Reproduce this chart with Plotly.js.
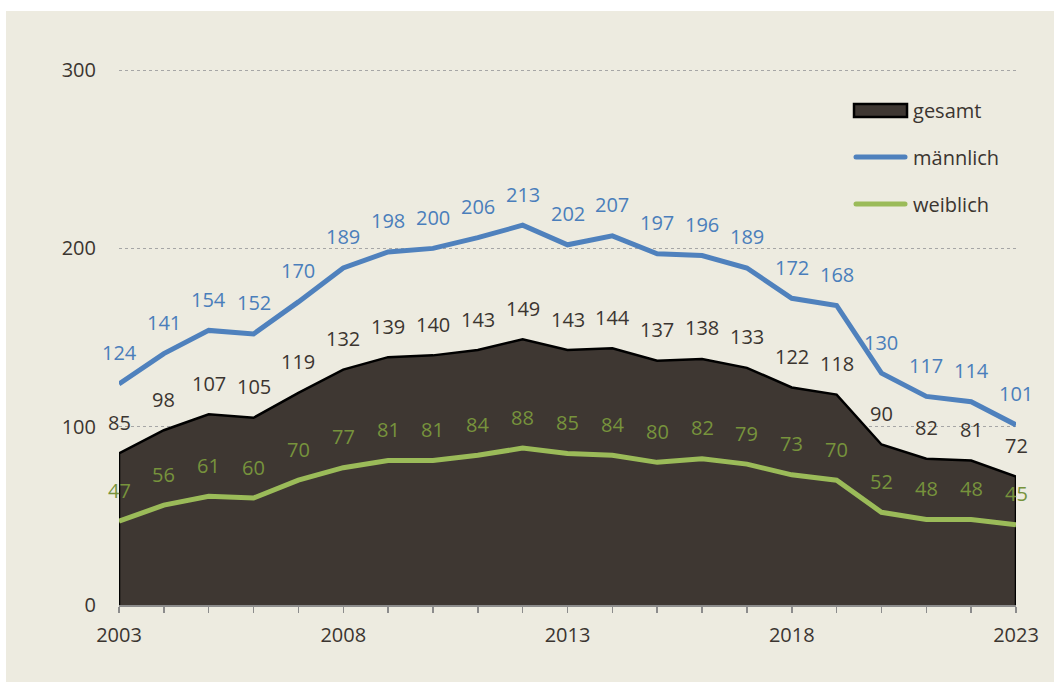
<!DOCTYPE html>
<html>
<head>
<meta charset="utf-8">
<script src="https://cdn.plot.ly/plotly-3.0.1.min.js"></script>
<style>
  html, body { margin:0; padding:0; background:#ffffff; }
  #wrap { position:relative; width:1054px; height:682px; overflow:hidden; }
  #panel { position:absolute; left:6px; top:11px; right:0; bottom:0; background:#EDEBE0; }
  #chart { position:absolute; left:0; top:0; width:1054px; height:682px; }
</style>
</head>
<body>
<div id="wrap"><div id="panel"></div><div id="chart"></div></div>
<script>
const years = [2003,2004,2005,2006,2007,2008,2009,2010,2011,2012,2013,2014,2015,2016,2017,2018,2019,2020,2021,2022,2023];
const gesamt = [85,98,107,105,119,132,139,140,143,149,143,144,137,138,133,122,118,90,82,81,72];
const maennlich = [124,141,154,152,170,189,198,200,206,213,202,207,197,196,189,172,168,130,117,114,101];
const weiblich = [47,56,61,60,70,77,81,81,84,88,85,84,80,82,79,73,70,52,48,48,45];
const xTickLabels = years.map(y => ((y - 2003) % 5 === 0) ? String(y) : '');
const yTickVals = [0,100,200,300];

const FONT = '"Open Sans", "Noto Sans", sans-serif';
const FS = 20;
const cDark = '#3E3732';
const cBlue = '#4F81BD';
const cGreen = '#9BBB59';
const cDarkText = '#3B3530';
const cBlueText = '#4A7EBB';
const cGreenText = '#77933C';

// closed polygon for the total area built from the data
const areaX = [years[0]].concat(years, [years[years.length-1]]);
const areaY = [0].concat(gesamt, [0]);

const traces = [
  {x: areaX, y: areaY, name: 'gesamt', type: 'scatter', mode: 'lines', fill: 'toself',
   fillcolor: cDark, line: {color: '#000000', width: 2.5}, legendgroup: 'g1', hoverinfo: 'skip'},
  {x: years, y: maennlich, name: 'männlich', type: 'scatter', mode: 'lines',
   line: {color: cBlue, width: 5}, legendgroup: 'g2', cliponaxis: false},
  {x: years, y: weiblich, name: 'weiblich', type: 'scatter', mode: 'lines',
   line: {color: cGreen, width: 5}, legendgroup: 'g3', cliponaxis: false}
];

const annotations = [];
function addLabels(vals, color) {
  vals.forEach((v, i) => {
    annotations.push({x: years[i], y: v, text: String(v), showarrow: false,
      xref: 'x', yref: 'y', yanchor: 'middle', xanchor: 'center', yshift: 31,
      font: {family: FONT, size: FS, color: color}});
  });
}
addLabels(gesamt, cDarkText);
addLabels(maennlich, cBlueText);
addLabels(weiblich, cGreenText);

const layout = {
  width: 1054, height: 682,
  paper_bgcolor: 'rgba(0,0,0,0)', plot_bgcolor: 'rgba(0,0,0,0)',
  margin: {l: 119, r: 38, t: 69, b: 77},
  font: {family: FONT, size: FS, color: cDarkText},
  showlegend: true,
  legend: {x: 0.8105, y: 0.960, xanchor: 'left', yanchor: 'top', bgcolor: 'rgba(0,0,0,0)',
           traceorder: 'grouped', tracegroupgap: 18, itemwidth: 57,
           font: {family: FONT, size: FS, color: cDarkText}},
  xaxis: {range: [2003, 2023], tickvals: years, ticktext: xTickLabels,
          showgrid: false, zeroline: false, showline: true, linecolor: '#8C8C8C', linewidth: 1.5,
          ticks: 'outside', ticklen: 6, tickwidth: 1.5, tickcolor: '#8C8C8C',
          ticklabelstandoff: 5, tickfont: {family: FONT, size: FS, color: cDarkText}},
  yaxis: {range: [0, 300.6], tickvals: yTickVals, showgrid: true, gridcolor: '#A6A6A6',
          gridwidth: 1, griddash: 'dot', zeroline: false, showline: false, ticks: '',
          ticklabelstandoff: 22, tickfont: {family: FONT, size: FS, color: cDarkText}},
  annotations: annotations
};

Plotly.newPlot('chart', traces, layout, {displayModeBar: false, staticPlot: true}).then(() => {
  // legend swatches styled like the reference
  const items = document.querySelectorAll('#chart .legend .traces');
  const first = items[0];
  if (first) {
    const fill = first.querySelector('.legendfill path');
    if (fill) {
      fill.setAttribute('d', 'M8,-6h53v13h-53z');
      fill.style.fill = cDark;
      fill.style.fillOpacity = 1;
      fill.style.stroke = '#000000';
      fill.style.strokeWidth = '2.5px';
    }
    first.querySelectorAll('.legendlines path').forEach(p => p.style.display = 'none');
  }
  for (let i = 1; i < items.length; i++) {
    items[i].querySelectorAll('.legendlines path').forEach(p => {
      p.setAttribute('d', 'M10,0h49');
      p.style.strokeLinecap = 'round';
    });
  }
});
</script>
</body>
</html>
